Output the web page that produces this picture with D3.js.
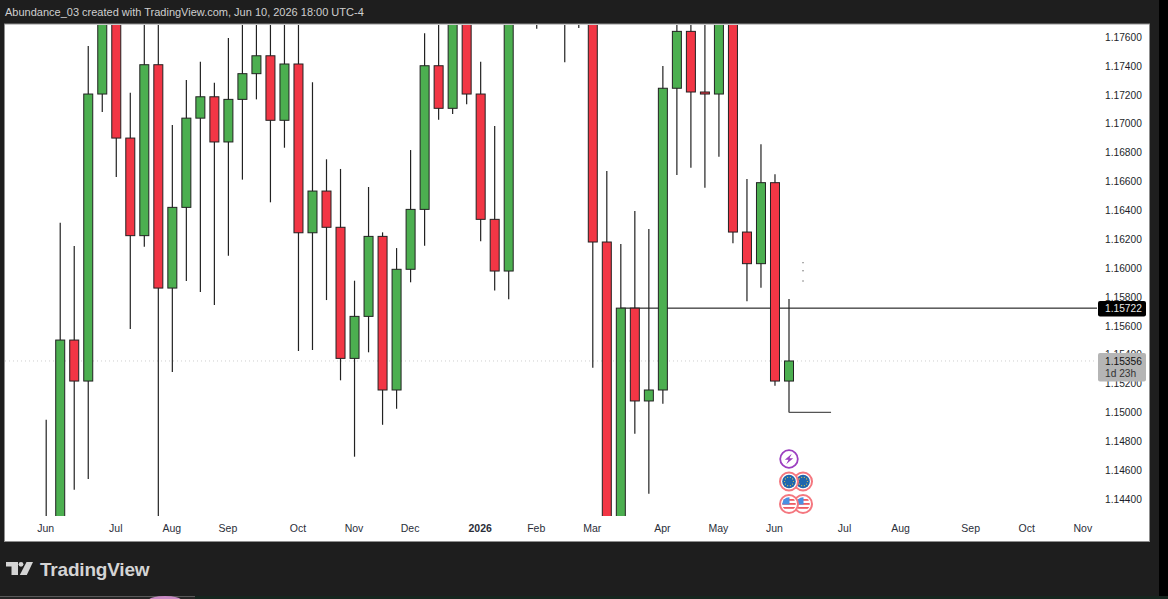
<!DOCTYPE html>
<html>
<head>
<meta charset="utf-8">
<title>Abundance_03 TradingView snapshot</title>
<script src="https://cdn.jsdelivr.net/npm/d3@7/dist/d3.min.js"></script>
<style>
    html, body { margin: 0; padding: 0; background: #000; overflow: hidden; }
    svg { display: block; }
    text { font-family: "Liberation Sans", Arial, sans-serif; }
</style>
</head>
<body>
<svg id="chart" width="1168" height="599"></svg>
<script>
// weekly candles (values past the visible range are estimates)
const opens = [1.1410,1.1425,1.15501,1.15217,1.17205,1.1795,1.16900,1.16224,1.17408,1.15861,1.16420,1.17038,1.17186,1.16873,1.17168,1.17346,1.17470,1.17023,1.17413,1.16244,1.16533,1.16282,1.15374,1.15665,1.16219,1.15155,1.15991,1.16406,1.17401,1.17106,1.1785,1.17205,1.16337,1.15979,1.1790,1.1810,1.1795,1.1815,1.1800,1.1820,1.16180,1.1415,1.15722,1.15079,1.15155,1.17245,1.17639,1.17219,1.17205,1.1785,1.16249,1.16030,1.16591,1.15217];
const highs = [1.14949,1.16314,1.16152,1.17538,1.1830,1.1815,1.17214,1.1775,1.1785,1.16990,1.17302,1.17429,1.17283,1.17593,1.1785,1.1780,1.1790,1.1785,1.1775,1.17286,1.16753,1.16686,1.15912,1.16561,1.16247,1.16138,1.16817,1.17626,1.1785,1.1800,1.1795,1.17429,1.16983,1.1800,1.1825,1.1840,1.1830,1.1840,1.1835,1.1845,1.16672,1.16166,1.16395,1.16270,1.17399,1.1780,1.1775,1.1785,1.1795,1.1790,1.16616,1.16857,1.16649,1.15785];
const lows = [1.1400,1.1415,1.14464,1.14538,1.17080,1.16630,1.15577,1.16147,1.1420,1.15279,1.15910,1.15834,1.15744,1.16085,1.16612,1.17168,1.16455,1.16833,1.15425,1.15432,1.15778,1.15222,1.14693,1.15416,1.14914,1.15025,1.15901,1.16154,1.17027,1.17067,1.17134,1.16185,1.15845,1.15783,1.1775,1.17657,1.1775,1.17425,1.17662,1.15309,1.1405,1.1400,1.14852,1.14436,1.15060,1.16644,1.16695,1.16556,1.16771,1.16171,1.15769,1.15863,1.15185,1.15000];
const closes = [1.1425,1.15501,1.15217,1.17205,1.1795,1.16900,1.16224,1.17408,1.15861,1.16420,1.17038,1.17186,1.16873,1.17168,1.17346,1.17470,1.17023,1.17413,1.16244,1.16533,1.16282,1.15374,1.15665,1.16219,1.15155,1.15991,1.16406,1.17401,1.17106,1.1785,1.17205,1.16337,1.15979,1.1790,1.1810,1.1795,1.1815,1.1800,1.1820,1.16180,1.1415,1.15722,1.15079,1.15155,1.17245,1.17639,1.17219,1.17205,1.1785,1.16249,1.16030,1.16591,1.15217,1.15356];

const priceTicks = [1.144,1.146,1.148,1.150,1.152,1.154,1.156,1.158,1.160,1.162,1.164,1.166,1.168,1.170,1.172,1.174,1.176];
const monthIndex = [0,5,9,13,18,22,26,31,35,39,44,48,52,57,61,66,70,74];
const monthLabels = ['Jun','Jul','Aug','Sep','Oct','Nov','Dec','2026','Feb','Mar','Apr','May','Jun','Jul','Aug','Sep','Oct','Nov'];

const lastPrice = 1.15356;
const countdown = '1d 23h';
const levelPrice = 1.15722;
const levelStart = 41;
const rayPrice = 1.15;
const rayStart = 53;
const rayEnd = 56;
const dotPrices = [1.16037, 1.15981, 1.15910];
const dotIndex = 54;
const eventIndex = [53, 54];

const headerText = 'Abundance_03 created with TradingView.com, Jun 10, 2026 18:00 UTC-4';

const svg = d3.select('#chart');
const x = d3.scaleLinear().domain([0, 53]).range([46.2, 789]);
const y = d3.scaleLinear().domain([1.144, 1.176]).range([499, 37]);

const plotRight = 1097;
const plotBottom = 516;
const green = '#4caf50';
const red = '#f23645';

// page background
svg.append('rect').attr('width', 1159).attr('height', 596).attr('fill', '#1e1e1e');
svg.append('rect').attr('y', 596).attr('width', 195).attr('height', 3).attr('fill', '#262626');
svg.append('rect').attr('y', 596).attr('width', 195).attr('height', 1).attr('fill', '#5a5a5a');
svg.append('rect').attr('x', 195).attr('y', 596).attr('width', 973).attr('height', 3).attr('fill', '#16261f');
svg.append('ellipse').attr('cx', 165).attr('cy', 600).attr('rx', 16).attr('ry', 4).attr('fill', '#c98ac4');

svg.append('text').attr('x', 5).attr('y', 16)
    .attr('fill', '#cfcfcf').attr('font-size', 11)
    .text(headerText);

// white chart panel
svg.append('rect').attr('x', 4.5).attr('y', 24).attr('width', 1145).attr('height', 517.5)
    .attr('fill', '#fff').attr('stroke', '#8f8f8f').attr('stroke-width', 1);

svg.append('clipPath').attr('id', 'plotClip').append('rect')
    .attr('x', 5).attr('y', 25).attr('width', plotRight - 5).attr('height', plotBottom - 25);

const plot = svg.append('g').attr('clip-path', 'url(#plotClip)');

// last price dotted line
plot.append('line')
    .attr('x1', 5).attr('x2', plotRight)
    .attr('y1', y(lastPrice)).attr('y2', y(lastPrice))
    .attr('stroke', '#cfcfcf').attr('stroke-dasharray', '1 3');

// horizontal level, goes behind candles
plot.append('line')
    .attr('x1', x(levelStart)).attr('x2', plotRight)
    .attr('y1', y(levelPrice)).attr('y2', y(levelPrice))
    .attr('stroke', '#000').attr('stroke-width', 1);

const candles = d3.range(opens.length);

plot.selectAll('.wick').data(candles).join('line')
    .attr('class', 'wick')
    .attr('x1', i => x(i)).attr('x2', i => x(i))
    .attr('y1', i => y(highs[i])).attr('y2', i => y(lows[i]))
    .attr('stroke', '#222').attr('stroke-width', 1.2);

plot.selectAll('.body').data(candles).join('rect')
    .attr('class', 'body')
    .attr('x', i => x(i) - 4.5)
    .attr('width', 9)
    .attr('y', i => y(Math.max(opens[i], closes[i])))
    .attr('height', i => Math.abs(y(opens[i]) - y(closes[i])))
    .attr('fill', i => closes[i] >= opens[i] ? green : red)
    .attr('stroke', '#222').attr('stroke-width', 1);

// ray from the last candle's low
plot.append('line')
    .attr('x1', x(rayStart)).attr('x2', x(rayEnd))
    .attr('y1', y(rayPrice)).attr('y2', y(rayPrice))
    .attr('stroke', '#555').attr('stroke-width', 1.2);

plot.selectAll('.dot').data(dotPrices).join('circle')
    .attr('class', 'dot')
    .attr('cx', x(dotIndex)).attr('cy', d => y(d)).attr('r', 0.7)
    .attr('fill', '#666');

// event icons under the last candle
function iconBase(g) {
    g.append('circle').attr('r', 9).attr('fill', '#fff').attr('stroke', '#f4777f').attr('stroke-width', 2);
}

function drawEu(cx, cy) {
    const g = svg.append('g').attr('transform', `translate(${cx},${cy})`);
    iconBase(g);
    g.append('circle').attr('r', 6.8).attr('fill', '#1f66ad');
    d3.range(10).forEach(k => {
        const a = k / 10 * 2 * Math.PI;
        g.append('circle').attr('cx', 4.4 * Math.cos(a)).attr('cy', 4.4 * Math.sin(a)).attr('r', 0.6).attr('fill', '#e2c64a');
    });
}

function drawUs(cx, cy, id) {
    const g = svg.append('g').attr('transform', `translate(${cx},${cy})`);
    iconBase(g);
    g.append('clipPath').attr('id', id).append('circle').attr('r', 6.8);
    const f = g.append('g').attr('clip-path', `url(#${id})`);
    f.append('rect').attr('x', -7).attr('y', -7).attr('width', 14).attr('height', 14).attr('fill', '#fff');
    [-5, -1, 3].forEach(s => {
        f.append('rect').attr('x', -7).attr('y', s).attr('width', 14).attr('height', 1.8).attr('fill', '#ef5b63');
    });
    f.append('rect').attr('x', -7).attr('y', -7).attr('width', 7.5).attr('height', 7.5).attr('fill', '#4a90e2');
}

drawEu(x(eventIndex[1]), 481.5);
drawEu(x(eventIndex[0]), 481.5);
drawUs(x(eventIndex[1]), 504, 'usB');
drawUs(x(eventIndex[0]), 504, 'usA');

const bolt = svg.append('g').attr('transform', `translate(${x(eventIndex[0])},459)`);
bolt.append('circle').attr('r', 8.8).attr('fill', '#fff').attr('stroke', '#9c3fc0').attr('stroke-width', 1.8);
bolt.append('path').attr('d', 'M2.8,-5.2 L-4.2,0.8 L-0.5,0.8 L-2.8,5.2 L4.2,-0.8 L0.5,-0.8 Z').attr('fill', '#9c3fc0');

// axes
const yAxis = d3.axisRight(y).tickValues(priceTicks).tickSize(0).tickPadding(0).tickFormat(d => d.toFixed(5));
const yG = svg.append('g').attr('transform', 'translate(1105,0)').call(yAxis);
yG.select('.domain').remove();
yG.selectAll('text').attr('font-size', 10.2).attr('fill', '#1c1f2a')
    .attr('font-family', '"Liberation Sans", Arial, sans-serif');

const xAxis = d3.axisBottom(x).tickValues(monthIndex).tickSize(0).tickPadding(0)
    .tickFormat((d, i) => monthLabels[i]);
const xG = svg.append('g').attr('transform', 'translate(-1,525)').call(xAxis);
xG.select('.domain').remove();
xG.selectAll('text').attr('font-size', 10.5).attr('fill', '#2a2e39')
    .attr('font-family', '"Liberation Sans", Arial, sans-serif')
    .attr('font-weight', (d, i) => monthLabels[i] === '2026' ? 'bold' : 'normal');

// price labels
svg.append('rect').attr('x', 1098).attr('y', 301).attr('width', 48).attr('height', 15.5).attr('rx', 2).attr('fill', '#000');
svg.append('text').attr('x', 1105).attr('y', y(levelPrice) + 4).attr('font-size', 10.2).attr('fill', '#e8e8e8')
    .text(levelPrice.toFixed(5));

svg.append('rect').attr('x', 1098).attr('y', 353).attr('width', 48).attr('height', 28.5).attr('rx', 2).attr('fill', '#b5b5b5');
svg.append('text').attr('x', 1105).attr('y', y(lastPrice) + 4).attr('font-size', 10.2).attr('fill', '#111')
    .text(lastPrice.toFixed(5));
svg.append('text').attr('x', 1105).attr('y', y(lastPrice) + 16.5).attr('font-size', 10.2).attr('fill', '#333')
    .text(countdown);

// TradingView logo
const logo = svg.append('g').attr('fill', '#d4d4d4');
logo.append('path').attr('d', 'M6,562 H18 V575 H11.5 V566.5 H6 Z');
logo.append('circle').attr('cx', 21).attr('cy', 564.3).attr('r', 2.4);
logo.append('path').attr('d', 'M26.5,562 H33 L26.8,575 H19.8 Z');
svg.append('text').attr('x', 40).attr('y', 575.5)
    .attr('font-family', 'Inter, sans-serif').attr('font-size', 19).attr('font-weight', 600)
    .attr('fill', '#d4d4d4').attr('letter-spacing', -0.2)
    .text('TradingView');
</script>
</body>
</html>
